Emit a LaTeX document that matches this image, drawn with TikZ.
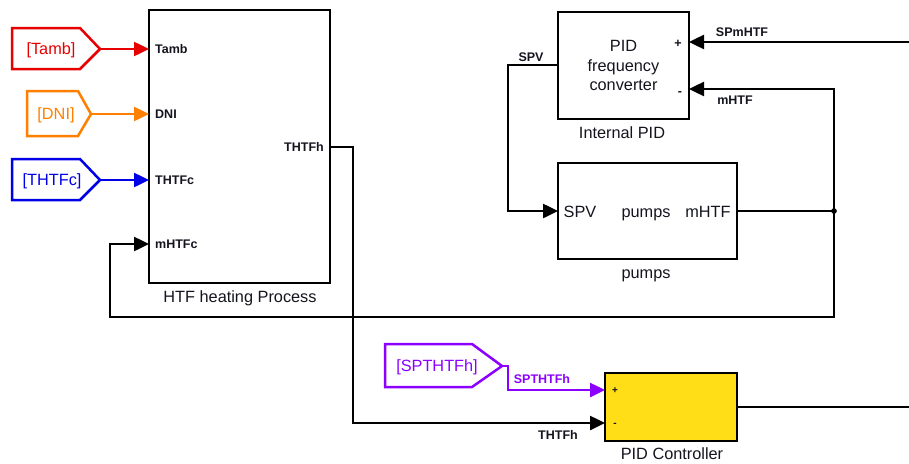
\documentclass[tikz,border=0pt]{standalone}
\usepackage{fontspec}
\setmainfont{Liberation Sans}
\usetikzlibrary{arrows.meta}
\definecolor{tagred}{RGB}{230,0,0}
\definecolor{tagorange}{RGB}{255,128,0}
\definecolor{tagblue}{RGB}{0,0,230}
\definecolor{tagpurple}{RGB}{140,0,255}
\definecolor{pidyellow}{RGB}{255,222,23}
\definecolor{ink}{RGB}{20,20,30}
\tikzset{
  blk/.style={draw=black, line width=2.6pt, inner sep=0pt, outer sep=0pt},
  sig/.style={line width=2.5pt, line join=miter, -{Triangle[length=15pt,width=14pt]}},
  wire/.style={line width=2.5pt, line join=miter},
  port/.style={font=\fontsize{12.5}{14}\selectfont\bfseries, inner sep=0pt, text=ink,
               text height=9pt, text depth=0pt},
  big/.style={font=\fontsize{16.3}{20}\selectfont, inner sep=0pt, text=ink,
              text height=11.5pt, text depth=0pt},
  tag/.style={line width=2.5pt, line join=miter},
}
\begin{document}
\begin{tikzpicture}[x=1pt,y=-1pt]
\useasboundingbox (0,0) rectangle (909,463);

% ---------- HTF heating block ----------
\node[blk, minimum width=181pt, minimum height=273pt, anchor=north west] (htf) at (149,10) {};
\node[big] (htflab) at (240,297) {HTF heating Process};
\node[port, anchor=west] (pTamb) at (155,49) {Tamb};
\node[port, anchor=west] (pDNI) at (155,114) {DNI};
\node[port, anchor=west] (pTHTFc) at (155,180) {THTFc};
\node[port, anchor=west] (pmHTFc) at (155,244) {mHTFc};
\node[port, anchor=east] (pTHTFh) at (324,147) {THTFh};

% ---------- Goto tags ----------
\draw[tag, tagred] (12,28) -- (80,28) -- (100,49) -- (80,69) -- (12,69) -- cycle;
\node[big, text=tagred] (tTamb) at (51,49) {[Tamb]};
\coordinate (cTamb) at (100,49);
\draw[tag, tagorange] (27,91) -- (78,91) -- (91,114) -- (78,136) -- (27,136) -- cycle;
\node[big, text=tagorange] (tDNI) at (56,114) {[DNI]};
\coordinate (cDNI) at (91,114);
\draw[tag, tagblue] (12,159) -- (80,159) -- (100,180) -- (80,200) -- (12,200) -- cycle;
\node[big, text=tagblue] (tTHTFc) at (52,180) {[THTFc]};
\coordinate (cTHTFc) at (100,180);

\draw[sig, tagred] (cTamb) -- (htf.west |- cTamb);
\draw[sig, tagorange] (cDNI) -- (htf.west |- cDNI);
\draw[sig, tagblue] (cTHTFc) -- (htf.west |- cTHTFc);

% ---------- Internal PID ----------
\node[blk, minimum width=131pt, minimum height=107pt, anchor=north west, align=center,
      font=\fontsize{16.3}{19.5}\selectfont, text=ink] (ipid) at (558,12) {PID\\frequency\\converter};
\node[big] (ipidlab) at (622,133) {Internal PID};
\node[port] (iplus) at (678,43) {+};
\node[port] (iminus) at (680,91) {-};

% ---------- pumps ----------
\node[blk, minimum width=179pt, minimum height=96pt, anchor=north west] (pumps) at (558,163) {};
\node[big] (pSPV) at (580,212) {SPV};
\node[big] (pname) at (646,212) {pumps};
\node[big] (pmHTF) at (708,212) {mHTF};
\node[big] (pumpslab) at (646,273) {pumps};

% ---------- PID Controller ----------
\node[blk, fill=pidyellow, minimum width=132pt, minimum height=68pt, anchor=north west] (pidc) at (605,373) {};
\node[big] (pidclab) at (672,454) {PID Controller};
\node[port, font=\fontsize{10}{12}\selectfont\bfseries, text height=7pt] (cplus) at (615,390) {+};
\node[port, font=\fontsize{10}{12}\selectfont\bfseries, text height=7pt] (cminus) at (615,423) {-};

% ---------- SPTHTFh tag ----------
\draw[tag, tagpurple] (385,344) -- (472,344) -- (502,366) -- (472,387) -- (385,387) -- cycle;
\node[big, text=tagpurple] (tSP) at (437,366) {[SPTHTFh]};
\coordinate (cSP) at (502,366);
\draw[sig, tagpurple] (cSP) -- (508,366) -- (508,390) -- (pidc.west |- 0,390);
\node[port, text=tagpurple] (lSP) at (542,379) {SPTHTFh};

% ---------- connectors ----------
\coordinate (jn) at (834,211);
\coordinate (spin) at (909,42);
\coordinate (thout) at (330,147);
\coordinate (pidout) at (909,407);

\draw[sig] (spin) -- (ipid.east |- spin);
\node[port] (lSPm) at (742,32) {SPmHTF};

\draw[sig] (jn) -- (834,89) -- (ipid.east |- 0,89);
\node[port] (lmH) at (735,100) {mHTF};

\draw[sig] (ipid.west |- 0,65) -- (508,65) -- (508,211) -- (pumps.west);
\node[port] (lSPV) at (531,57) {SPV};

\draw[sig] (pumps.east) -- (jn) -- (834,317) -- (110,317) -- (110,244) -- (htf.west |- 0,244);
\fill (jn) circle (2.8pt);

\draw[sig] (thout) -- (353,147) -- (353,423) -- (pidc.west |- 0,423);
\node[port] (lTH) at (558,435) {THTFh};

\draw[wire] (pidc.east |- pidout) -- (pidout);
\end{tikzpicture}
\end{document}
